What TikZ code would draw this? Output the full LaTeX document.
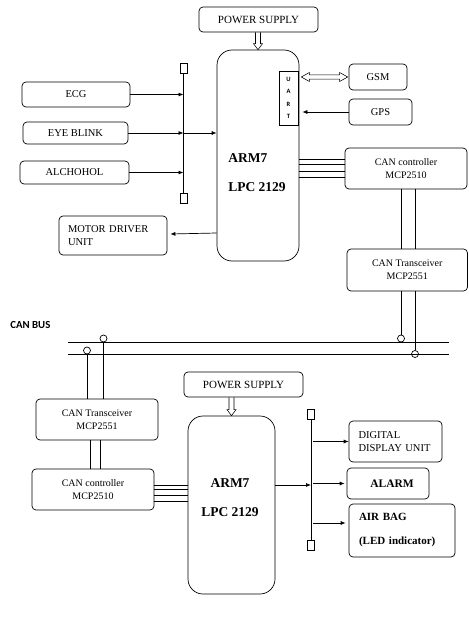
\documentclass[tikz,border=0pt]{standalone}
\usepackage{fontspec}
\setmainfont{Liberation Serif}
\newfontfamily\calfont{Carlito}
\usetikzlibrary{arrows.meta,calc}
\begin{document}
\begin{tikzpicture}[x=1pt,y=-1pt,line width=0.7pt,
  blk/.style={draw, rounded corners=4pt, inner sep=0pt, align=center, font=\fontsize{10.5}{12.5}\selectfont},
  psblk/.style={blk, font=\fontsize{11}{12.5}\selectfont},
  smallblk/.style={blk, font=\fontsize{10}{13}\selectfont},
  armbox/.style={draw, rounded corners=15pt, inner sep=0pt},
  armtxt/.style={inner sep=0pt, font=\bfseries\fontsize{13.5}{29}\selectfont},
  bold/.style={font=\bfseries\fontsize{11.5}{24}\selectfont},
  busend/.style={draw, minimum width=7pt, minimum height=10pt, inner sep=0pt},
  tap/.style={draw, circle, minimum size=7pt, inner sep=0pt},
  arr/.style={-{Latex[length=5pt,width=4pt]}},
  holw/.style={line width=0.55pt, line join=miter}]
\useasboundingbox (0,0) rectangle (468,623);

% ---------- top unit ----------
\node[psblk, minimum width=119pt, minimum height=25pt] (ps1) at (258.5,19.5) {POWER SUPPLY};
\node[armbox, minimum width=82pt, minimum height=211pt] (arm1) at (258,155.5) {};
\node[armtxt, anchor=west, align=left] (arm1t) at (228,172.5) {ARM7\\LPC 2129};
\node[draw, fill=white, minimum width=19pt, minimum height=54pt, inner sep=0pt, align=center,
  font=\calfont\bfseries\fontsize{6.5}{12.3}\selectfont] (uart) at (288.5,98) {U\\A\\R\\T};
\node[blk, minimum width=58pt, minimum height=26pt] (gsm) at (378,77) {GSM};
\node[blk, minimum width=63pt, minimum height=26pt] (gps) at (380.5,112) {GPS};
\node[blk, minimum width=108pt, minimum height=25pt] (ecg) at (76,94.5) {ECG};
\node[blk, minimum width=105pt, minimum height=22pt] (eye) at (75.5,133) {EYE BLINK};
\node[blk, minimum width=109pt, minimum height=23pt] (alc) at (74.5,172.5) {ALCHOHOL};
\node[blk, minimum height=39pt, text width=90pt, inner xsep=9pt, align=left] (motor) at (113,235.5) {MOTOR DRIVER\\UNIT};
\node[smallblk, minimum width=122pt, minimum height=41pt] (can1) at (406,168.5) {CAN controller\\MCP2510};
\node[smallblk, minimum width=120.5pt, minimum height=42pt] (trx1) at (407.25,270) {CAN Transceiver\\MCP2551};

\node[busend] (bt1) at (183.5,68) {};
\node[busend] (bb1) at (183.5,198) {};
\draw (bt1.south) -- (bb1.north);

% hollow arrow power -> ARM
\coordinate (pa1) at (ps1.south -| arm1.north);
\coordinate (pb1) at (arm1.north);
\draw[holw] ($(pa1)+(-2.5,0)$) -- ($(pb1)+(-2.5,-6)$) -- ($(pb1)+(-4.5,-6)$) -- (pb1)
  -- ($(pb1)+(4.5,-6)$) -- ($(pb1)+(2.5,-6)$) -- ($(pa1)+(2.5,0)$);
% hollow double arrow UART <-> GSM
\coordinate (ga) at ([xshift=3pt]uart.east |- gsm.west);
\coordinate (gb) at ([xshift=-1pt]gsm.west);
\draw[holw] (ga) -- ($(ga)+(8,-4.5)$) -- ($(ga)+(8,-2.2)$) -- ($(gb)+(-8,-2.2)$) -- ($(gb)+(-8,-4.5)$)
  -- (gb) -- ($(gb)+(-8,4.5)$) -- ($(gb)+(-8,2.2)$) -- ($(ga)+(8,2.2)$) -- ($(ga)+(8,4.5)$) -- cycle;

\draw[arr] (gps.west) -- ([xshift=4pt]uart.east |- gps.west);
\draw[arr] (ecg.east) -- (ecg.east -| bt1.south);
\draw[arr] (eye.east) -- (eye.east -| bt1.south);
\draw[arr] (eye.east -| bt1.south) -- (eye.east -| arm1.west);
\draw[arr] (alc.east) -- (alc.east -| bt1.south);
\draw[arr] (arm1.west |- 0,233) -- ([xshift=3pt]motor.east |- 0,234);
\foreach \yy in {159,164,171,177} \draw (arm1.east |- 0,\yy) -- (can1.west |- 0,\yy);
\draw (can1.south -| 401,0) -- (trx1.north -| 401,0);
\draw (can1.south -| 415,0) -- (trx1.north -| 415,0);

% ---------- CAN bus ----------
\node[inner sep=0pt, anchor=west, font=\calfont\bfseries\fontsize{10.8}{12}\selectfont] (busl) at (10,325) {CAN BUS};
\coordinate (l1a) at (68,342);
\coordinate (l1b) at (449,342);
\coordinate (l2a) at (68,354);
\coordinate (l2b) at (449,354);
\draw (l1a) -- (l1b);
\draw (l2a) -- (l2b);
\node[tap] (c1) at (401,338.5) {};
\node[tap] (c2) at (415,354) {};
\node[tap] (c3) at (103.5,338.5) {};
\node[tap] (c4) at (87,350.5) {};
\draw (trx1.south -| c1) -- (c1.north);
\draw (trx1.south -| c2) -- (c2.north);

% ---------- bottom unit ----------
\node[psblk, minimum width=119pt, minimum height=25pt] (ps2) at (243.5,384.5) {POWER SUPPLY};
\node[armbox, minimum width=87pt, minimum height=178pt] (arm2) at (231.5,505) {};
\node[armtxt, align=center] (arm2t) at (230,497.5) {ARM7\\LPC 2129};
\node[smallblk, minimum width=122pt, minimum height=41pt] (trx2) at (97,419.5) {CAN Transceiver\\MCP2551};
\node[smallblk, minimum width=122pt, minimum height=41pt] (can2) at (93,489.5) {CAN controller\\MCP2510};
\node[blk, minimum height=41pt, text width=74pt, inner xsep=9.5pt, align=left] (disp) at (395.5,441.5) {DIGITAL\\DISPLAY UNIT};
\node[blk, bold, minimum width=82pt, minimum height=31pt] (alarm) at (388,483.5) {\hspace*{8pt}ALARM};
\node[blk, bold, font=\bfseries\fontsize{11}{24}\selectfont, minimum height=53pt, text width=86pt, inner xsep=10pt, align=left] (air) at (402,530.5) {AIR BAG\\(LED indicator)};

\node[busend] (bt2) at (311,414.5) {};
\node[busend] (bb2) at (311,545) {};
\draw (bt2.south) -- (bb2.north);

\draw (c3.south) -- (trx2.north -| c3);
\draw (c4.south) -- (trx2.north -| c4);
\draw (trx2.south -| 90,0) -- (can2.north -| 90,0);
\draw (trx2.south -| 100,0) -- (can2.north -| 100,0);
\coordinate (pa2) at (ps2.south -| arm2.north);
\coordinate (pb2) at (arm2.north);
\draw[holw] ($(pa2)+(-2.5,0)$) -- ($(pb2)+(-2.5,-6)$) -- ($(pb2)+(-4.5,-6)$) -- (pb2)
  -- ($(pb2)+(4.5,-6)$) -- ($(pb2)+(2.5,-6)$) -- ($(pa2)+(2.5,0)$);
\foreach \yy in {485,489.3,495.7,501.7} \draw (can2.east |- 0,\yy) -- (arm2.west |- 0,\yy);
\draw[arr] (arm2.east |- 0,485) -- (bt2.south |- 0,485);
\draw[arr] ([xshift=2pt]bt2.south |- disp.west) -- (disp.west);
\draw[arr] ([xshift=2pt]bt2.south |- alarm.west) -- ([xshift=-2pt]alarm.west);
\draw[arr] ([xshift=2pt]bt2.south |- 0,523) -- ([xshift=-3pt]air.west |- 0,523);
\end{tikzpicture}
\end{document}
